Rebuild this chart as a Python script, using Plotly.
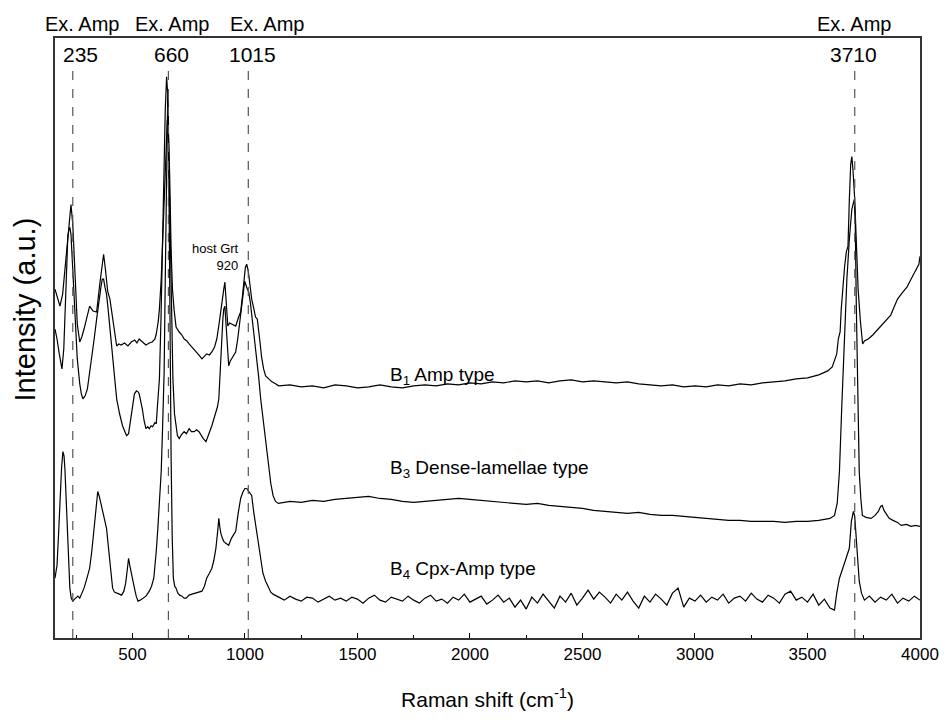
import plotly.graph_objects as go

# ---------------- data (Raman shift in cm-1, intensity in a.u.) ----------------
b1_x = [156,165,178,190,200,213,222,227,235,245,255,266,275,285,298,310,325,341,355,365,372,380,390,400,408,420,430,440,450,465,480,495,510,520,530,545,560,575,588,600,606,615,620,628,633,640,645,650,655,660,665,672,678,685,694,708,720,730,742,752,765,780,795,809,820,830,842,853,865,875,885,893,900,906,911,915,918,924,932,940,950,959,972,981,990,995,1002,1008,1015,1022,1030,1040,1047,1055,1061,1068,1074,1083,1092,1105,1120,1136,
        1150,1200,1250,1300,1350,1400,1450,1500,1550,1600,1650,1700,1750,1800,1850,1900,1950,2000,2050,2100,2150,2200,2250,2300,2350,2400,2450,2500,2550,2600,2650,2700,2750,2800,2850,2900,2950,3000,3050,3100,3150,3200,3250,3300,3350,3400,3450,3500,3550,
        3590,3610,3620,3630,3637,3645,3650,3656,3665,3673,3680,3686,3692,3697,3702,3710,3717,3725,3735,3745,3753,3770,3790,3810,3830,3850,3870,3885,3900,3920,3942,3960,3980,3995,4000]
b1_y = [350,343,333,345,370,408,430,435,415,360,315,297,302,310,322,333,328,327,355,375,385,370,348,340,328,305,293,295,294,296,293,297,299,296,300,297,294,296,297,300,305,318,330,360,390,430,470,505,520,505,470,390,350,330,312,307,304,300,298,295,292,288,284,280,283,285,284,287,292,300,315,330,340,350,357,345,335,313,316,315,314,313,322,327,345,360,372,375,368,355,340,330,322,320,305,295,282,270,263,260,257,255,253,
        254,252,253,251,254,253,251,252,254,252,251,253,254,253,255,254,256,255,257,256,258,257,258,256,258,259,257,258,257,256,257,255,254,253,254,252,253,252,254,253,255,254,256,257,258,260,261,264,268,
        272,278,285,300,307,330,350,373,388,393,440,475,483,470,440,390,350,318,295,298,300,304,309,313,318,324,332,340,346,352,360,368,375,383,390]

b3_x = [156,165,175,187,195,200,207,213,218,222,227,232,238,245,255,266,273,280,290,300,310,320,330,341,350,360,366,372,378,385,392,400,410,420,430,443,456,465,474,483,492,500,509,518,525,530,537,544,552,560,568,575,583,590,600,606,612,620,627,633,640,646,652,657,662,668,675,680,687,694,700,708,718,730,740,752,762,775,785,796,805,815,827,835,840,853,862,871,878,884,890,893,897,902,906,911,916,922,928,935,940,950,959,968,975,981,990,999,1008,1017,1025,1032,1039,1050,1061,1070,1080,1092,1105,1115,1125,1136,1149,
        1200,1250,1300,1350,1400,1450,1500,1550,1600,1650,1700,1750,1800,1850,1900,1950,2000,2050,2100,2150,2200,2250,2300,2350,2400,2450,2500,2550,2600,2650,2700,2750,2800,2850,2900,2950,3000,3050,3100,3150,3200,3250,3300,3350,3400,3450,3500,3550,3600,
        3620,3632,3642,3652,3664,3675,3686,3697,3708,3712,3717,3723,3730,3737,3744,3760,3783,3800,3815,3825,3832,3840,3850,3863,3880,3900,3916,3940,3960,3980,4000]
b3_y = [310,300,285,270,290,320,370,403,410,412,405,385,355,320,280,255,245,240,243,250,265,280,300,320,338,352,360,360,352,345,330,310,285,260,240,225,213,208,203,205,218,230,245,248,247,245,238,230,218,210,212,210,213,212,216,215,235,260,320,390,460,530,563,545,480,400,300,260,225,210,203,200,204,207,205,210,207,207,209,207,203,200,197,203,205,213,220,227,232,240,268,290,305,320,330,333,315,290,273,278,280,284,287,300,312,323,340,358,352,347,335,322,307,285,262,240,220,200,173,155,143,137,135,
        137,136,138,137,139,140,141,142,140,139,137,136,137,138,139,140,139,138,137,136,135,134,135,133,132,131,130,128,127,126,125,126,124,123,123,122,121,120,119,118,118,117,117,117,116,117,117,118,120,
        123,135,167,230,300,360,400,430,440,420,333,250,167,140,123,121,120,123,127,132,133,128,125,120,118,116,113,114,112,113,112]

b4_x = [156,160,165,172,178,185,191,196,200,206,213,218,222,228,235,243,250,258,266,275,285,298,310,320,330,338,346,353,360,366,372,378,385,393,400,406,412,420,430,440,452,462,470,477,483,489,495,502,509,517,525,535,545,560,575,585,595,600,606,613,620,628,634,641,646,650,654,657,660,664,668,672,677,682,688,694,702,710,720,730,739,752,765,780,795,809,820,830,842,853,862,871,878,884,888,893,900,906,915,928,940,950,959,970,981,990,1000,1008,1015,1022,1030,1040,1050,1061,1070,1080,1092,1105,1115,1125,1136,
        1150,1175,1200,1225,1250,1275,1300,1325,1350,1375,1400,1425,1450,1475,1500,1525,1550,1575,1600,1625,1650,1675,1700,1725,1750,1775,1800,1825,1850,1875,1900,1925,1950,1975,2000,2025,2050,2075,2100,2125,2150,2175,2200,2225,2250,2275,2300,2325,2350,2375,2400,2425,2450,2475,2500,2525,2550,2575,2600,2625,2650,2675,2700,2725,2750,2775,2800,2825,2850,2875,2900,2925,2950,2975,3000,3025,3050,3075,3100,3125,3150,3175,3200,3225,3250,3275,3300,3325,3350,3375,3400,3425,3450,3475,3500,3525,3550,3575,3600,3620,
        3630,3642,3654,3664,3676,3686,3695,3704,3710,3717,3724,3730,3740,3753,3775,3800,3825,3850,3875,3900,3925,3950,3975,4000]
b4_y = [60,66,73,105,140,170,187,183,170,140,107,75,50,40,37,39,40,42,40,44,50,60,70,88,110,130,147,142,135,130,125,118,110,92,75,60,50,46,45,44,43,47,55,68,80,72,65,55,50,42,37,38,40,42,47,52,60,70,87,110,140,167,210,267,360,440,510,545,520,390,280,180,100,60,52,50,45,43,42,40,40,43,44,45,46,47,52,60,65,70,78,90,105,120,112,105,100,97,95,93,100,104,107,125,140,146,150,150,148,146,143,125,110,93,78,65,57,50,46,44,43,
        41,38,42,39,37,41,40,36,39,42,38,40,37,41,39,35,40,43,38,36,41,39,37,42,38,35,40,43,37,39,35,41,38,44,36,39,42,34,38,43,36,40,31,38,29,41,35,44,37,30,42,36,45,33,40,48,39,46,41,35,44,38,46,37,30,42,36,44,39,33,45,50,31,40,37,43,36,41,38,44,35,40,42,37,45,39,36,43,40,35,44,47,38,41,36,44,33,39,30,28,
        45,60,68,75,82,90,117,127,122,100,75,57,45,38,42,36,41,38,44,35,40,37,42,38]

peak_pos = [235, 660, 1015, 3710]
peak_labels = ["235", "660", "1015", "3710"]
peak_label_x = [271, 672, 1034, 3704]
examp_label_x = [275, 677, 1096, 3708]

series_names = ["B<sub>1</sub> Amp type", "B<sub>3</sub> Dense-lamellae type", "B<sub>4</sub> Cpx-Amp type"]
series_label_y = [263, 170, 68]
series_label_x = 1634

tick_vals = [500, 1000, 1500, 2000, 2500, 3000, 3500, 4000]

FONT = "Liberation Sans, Arial, sans-serif"

fig = go.Figure()
for xs, ys in [(b1_x, b1_y), (b3_x, b3_y), (b4_x, b4_y)]:
    fig.add_trace(go.Scatter(x=xs, y=ys, mode="lines",
                             line=dict(color="black", width=1.2),
                             showlegend=False, hoverinfo="skip"))

for p in peak_pos:
    fig.add_shape(type="line", x0=p, x1=p, y0=0, y1=570, xref="x", yref="y",
                  line=dict(color="#555555", width=1.2, dash="dash"))

for lx, txt in zip(peak_label_x, peak_labels):
    fig.add_annotation(x=lx, y=585, xref="x", yref="y", text=txt, showarrow=False,
                       xanchor="center", yanchor="middle",
                       font=dict(family=FONT, size=21, color="black"))
for lx in examp_label_x:
    fig.add_annotation(x=lx, y=1.024, xref="x", yref="paper", text="Ex. Amp", showarrow=False,
                       xanchor="center", yanchor="middle",
                       font=dict(family=FONT, size=20, color="black"))

fig.add_annotation(x=981, y=382, xref="x", yref="y", text="host Grt<br>920", showarrow=False,
                   xanchor="right", yanchor="middle", align="right",
                   font=dict(family=FONT, size=13, color="black"))

for name, ly in zip(series_names, series_label_y):
    fig.add_annotation(x=series_label_x, y=ly, xref="x", yref="y", text=name, showarrow=False,
                       xanchor="left", yanchor="middle", font=dict(family=FONT, size=19, color="black"))

fig.add_annotation(x=-0.0344, y=0.548, xref="paper", yref="paper", text="Intensity (a.u.)",
                   textangle=-90, showarrow=False, xanchor="center", yanchor="middle",
                   font=dict(family=FONT, size=29, color="black"))

fig.update_layout(
    width=951, height=720,
    margin=dict(l=55, r=25, t=38, b=80),
    paper_bgcolor="white", plot_bgcolor="white",
    font=dict(family=FONT, color="black"),
    xaxis=dict(range=[156, 4000], tickvals=tick_vals, ticks="inside", ticklen=5,
               tickcolor="black", showline=True, mirror=True, linecolor="#333333", linewidth=1.5,
               showgrid=False, zeroline=False, tickfont=dict(size=17),
               minor=dict(tickvals=[250, 750, 1250, 1750, 2250, 2750, 3250, 3750], ticks="inside", ticklen=3, tickcolor="black"),
               title=dict(text="Raman shift (cm<sup>-1</sup>)", font=dict(size=21), standoff=29)),
    yaxis=dict(range=[0, 602], showticklabels=False, ticks="", showline=True, mirror=True,
               linecolor="#333333", linewidth=1.5, showgrid=False, zeroline=False),
)

fig.write_html("out.html")
